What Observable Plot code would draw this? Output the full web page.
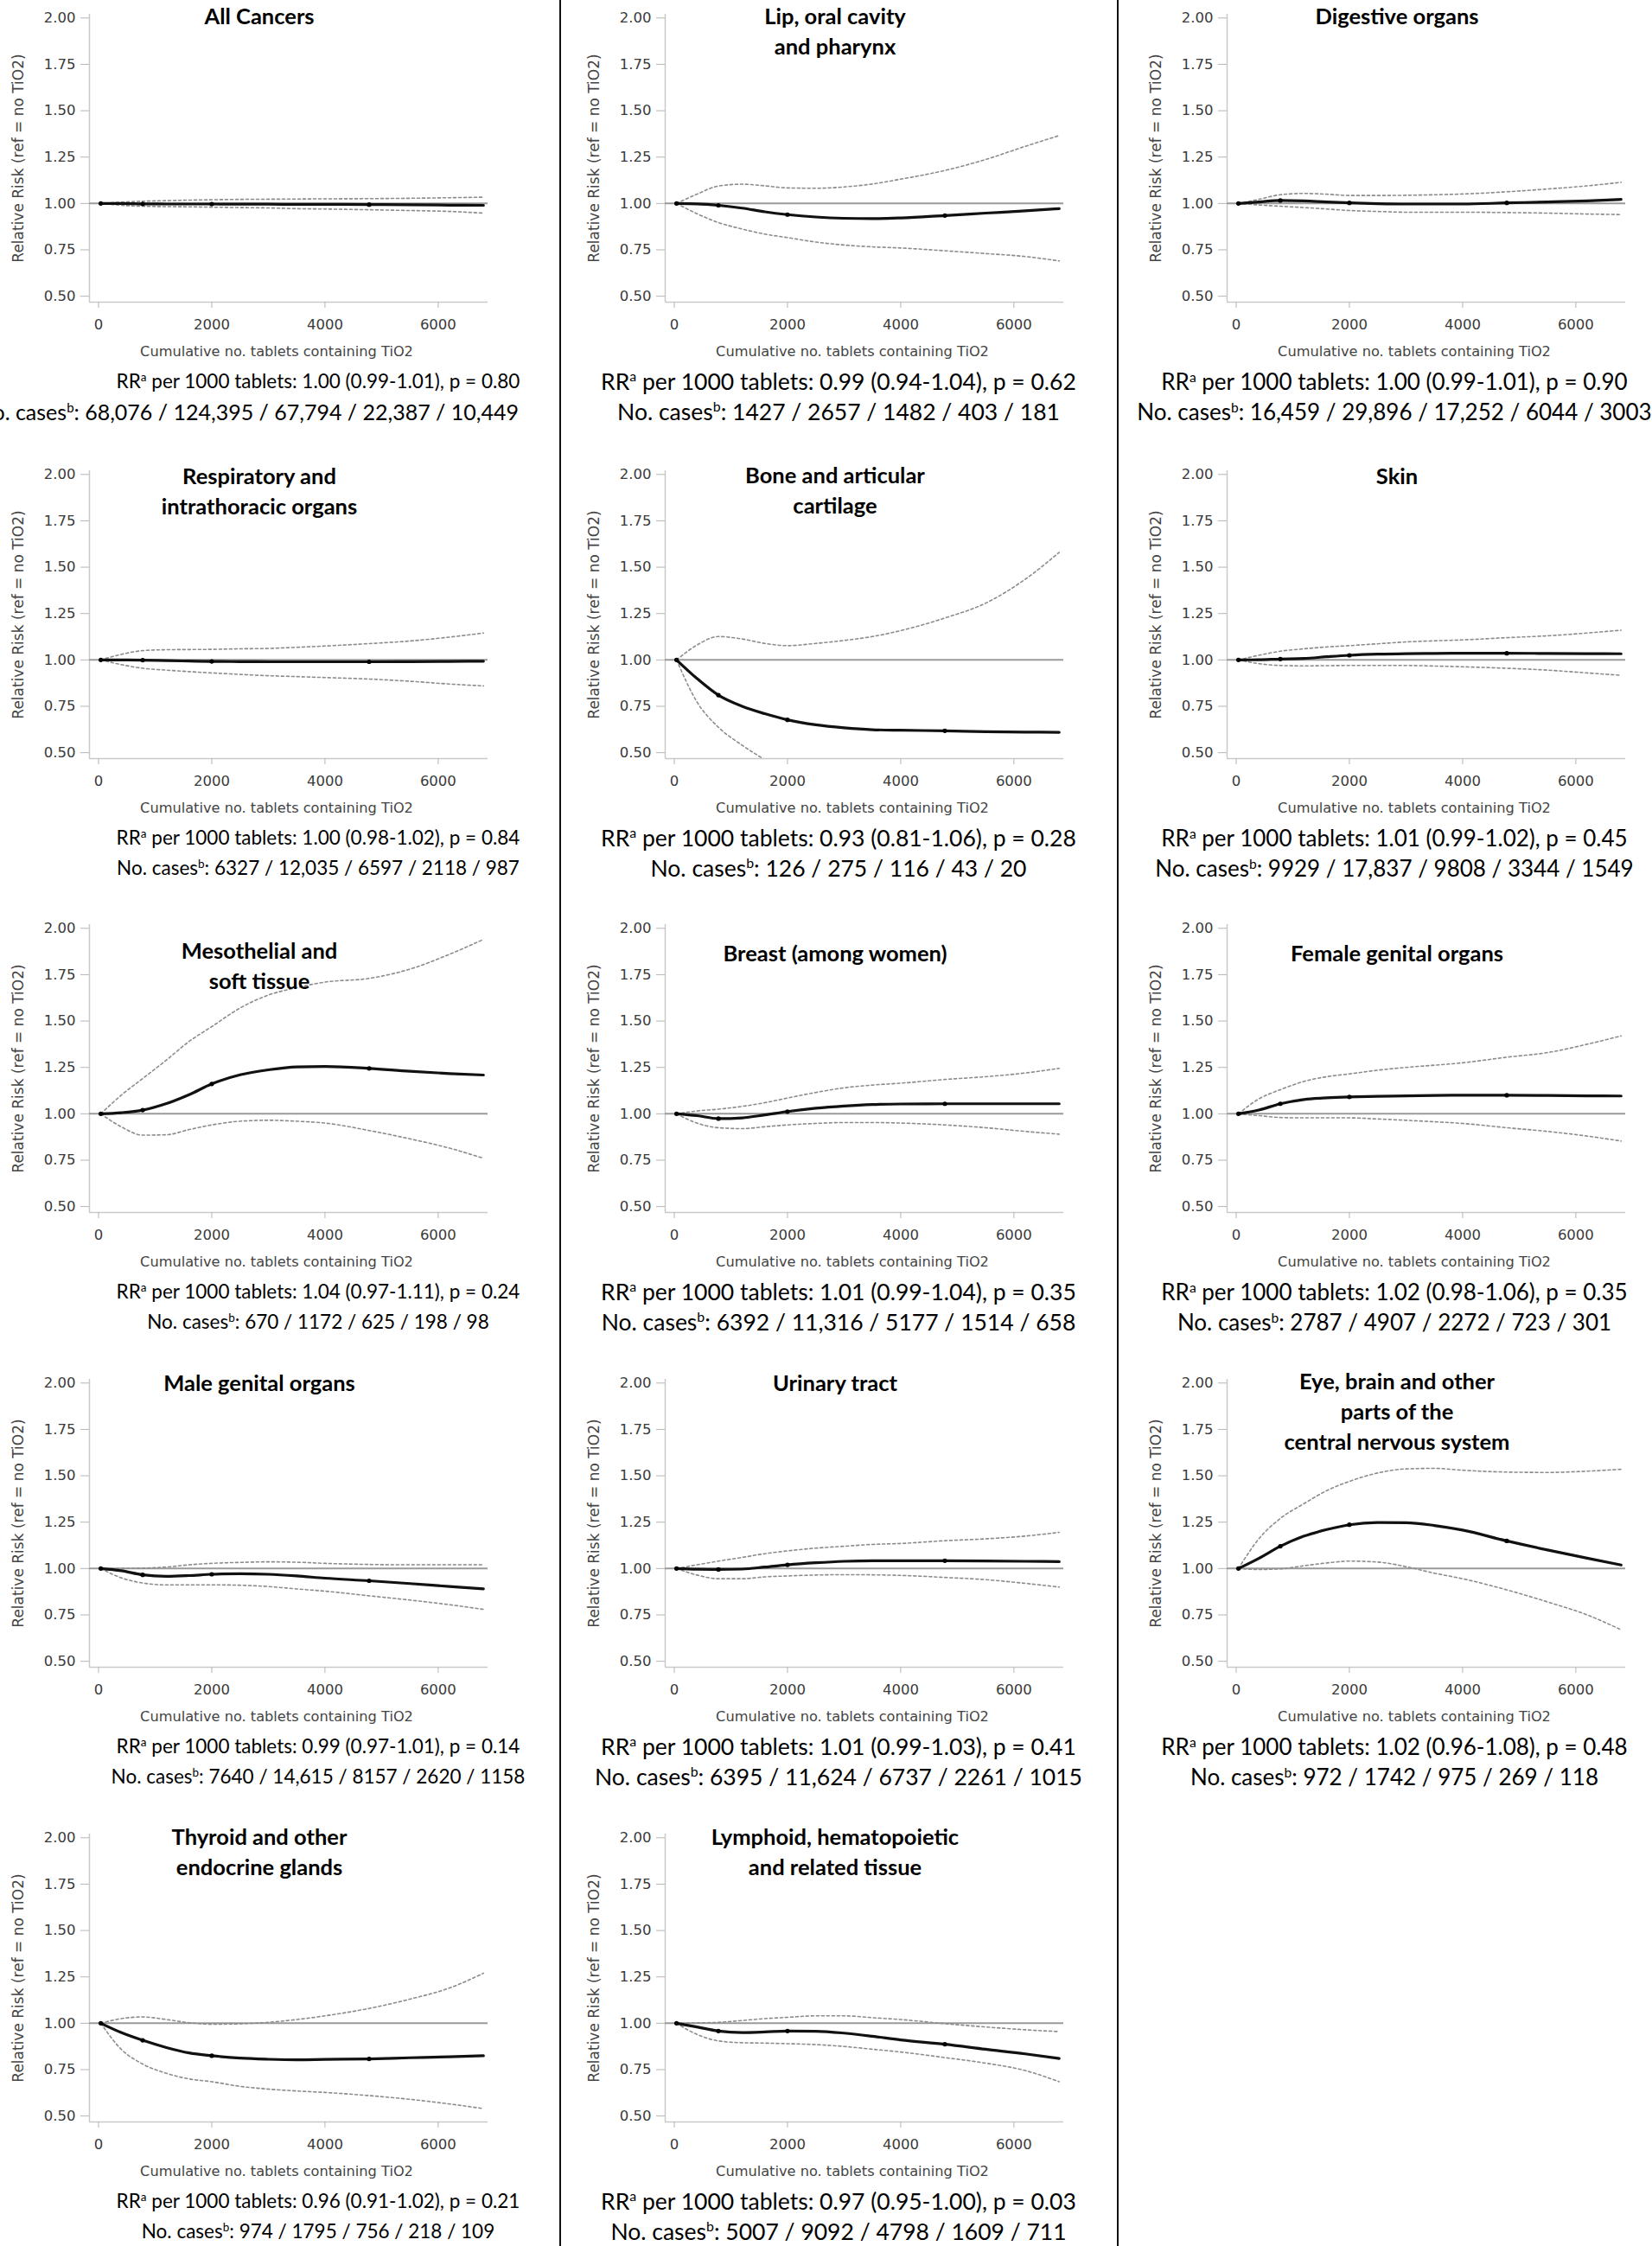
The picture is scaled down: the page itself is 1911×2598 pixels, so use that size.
<!DOCTYPE html>
<html><head><meta charset="utf-8">
<script src="https://cdn.jsdelivr.net/npm/d3@7"></script>
<script src="https://cdn.jsdelivr.net/npm/@observablehq/plot@0.6"></script>
<style>
body{margin:0;background:#fff;}
#page{position:relative;width:1911px;height:2598px;overflow:hidden;background:#fff;}
.panel{position:absolute;}
.panel svg{overflow:visible;}
.cap{position:absolute;white-space:nowrap;font-family:Lato,sans-serif;color:#000;line-height:1;}
.cap sup{font-size:0.6em;vertical-align:0.6em;line-height:0;}
.sep{position:absolute;top:0;width:2px;height:2598px;background:#111;}
</style></head><body><div id="page"></div>
<script>
// ---------- data ----------
const xSamples = [40, 400, 780, 1200, 1600, 2000, 2500, 3000, 3500, 4000, 4780, 5500, 6200, 6800];
const knotIndex = [0, 2, 5, 10];
const xTicks = [0, 2000, 4000, 6000];
const yTicks = [0.5, 0.75, 1.0, 1.25, 1.5, 1.75, 2.0];
const xLabel = "Cumulative no. tablets containing TiO2";
const yLabel = "Relative Risk (ref = no TiO2)";

const titles = [
  "All Cancers", "Lip, oral cavity\nand pharynx", "Digestive organs",
  "Respiratory and\nintrathoracic organs", "Bone and articular\ncartilage", "Skin",
  "Mesothelial and\nsoft tissue", "Breast (among women)", "Female genital organs",
  "Male genital organs", "Urinary tract", "Eye, brain and other\nparts of the\ncentral nervous system",
  "Thyroid and other\nendocrine glands", "Lymphoid, hematopoietic\nand related tissue"
];
const rrText = [
  "1.00 (0.99-1.01), p = 0.80", "0.99 (0.94-1.04), p = 0.62", "1.00 (0.99-1.01), p = 0.90",
  "1.00 (0.98-1.02), p = 0.84", "0.93 (0.81-1.06), p = 0.28", "1.01 (0.99-1.02), p = 0.45",
  "1.04 (0.97-1.11), p = 0.24", "1.01 (0.99-1.04), p = 0.35", "1.02 (0.98-1.06), p = 0.35",
  "0.99 (0.97-1.01), p = 0.14", "1.01 (0.99-1.03), p = 0.41", "1.02 (0.96-1.08), p = 0.48",
  "0.96 (0.91-1.02), p = 0.21", "0.97 (0.95-1.00), p = 0.03"
];
const casesText = [
  "68,076 / 124,395 / 67,794 / 22,387 / 10,449", "1427 / 2657 / 1482 / 403 / 181", "16,459 / 29,896 / 17,252 / 6044 / 3003",
  "6327 / 12,035 / 6597 / 2118 / 987", "126 / 275 / 116 / 43 / 20", "9929 / 17,837 / 9808 / 3344 / 1549",
  "670 / 1172 / 625 / 198 / 98", "6392 / 11,316 / 5177 / 1514 / 658", "2787 / 4907 / 2272 / 723 / 301",
  "7640 / 14,615 / 8157 / 2620 / 1158", "6395 / 11,624 / 6737 / 2261 / 1015", "972 / 1742 / 975 / 269 / 118",
  "974 / 1795 / 756 / 218 / 109", "5007 / 9092 / 4798 / 1609 / 711"
];

const estAll = [1, 1, 0.998, 0.997, 0.997, 0.997, 0.996, 0.996, 0.995, 0.995, 0.994, 0.993, 0.991, 0.99];
const hiAll  = [1, 1.007, 1.012, 1.015, 1.018, 1.02, 1.022, 1.023, 1.024, 1.025, 1.026, 1.028, 1.031, 1.034];
const loAll  = [1, 0.99, 0.985, 0.983, 0.982, 0.98, 0.978, 0.976, 0.972, 0.97, 0.966, 0.962, 0.957, 0.948];

const estLip = [1, 0.998, 0.99, 0.975, 0.955, 0.94, 0.927, 0.92, 0.918, 0.922, 0.935, 0.948, 0.96, 0.972];
const hiLip  = [1, 1.05, 1.094, 1.104, 1.095, 1.084, 1.082, 1.089, 1.105, 1.131, 1.178, 1.237, 1.308, 1.366];
const loLip  = [1, 0.945, 0.897, 0.862, 0.835, 0.816, 0.792, 0.776, 0.766, 0.76, 0.745, 0.73, 0.714, 0.69];

const estDig = [1, 1.008, 1.016, 1.014, 1.008, 1.003, 0.999, 0.997, 0.997, 0.997, 1.003, 1.008, 1.014, 1.022];
const hiDig  = [1, 1.022, 1.047, 1.054, 1.05, 1.043, 1.043, 1.044, 1.047, 1.051, 1.063, 1.078, 1.095, 1.114];
const loDig  = [1, 0.992, 0.985, 0.978, 0.97, 0.962, 0.957, 0.953, 0.953, 0.953, 0.951, 0.948, 0.943, 0.94];

const estResp = [1, 1, 0.999, 0.996, 0.994, 0.992, 0.991, 0.99, 0.99, 0.99, 0.99, 0.991, 0.992, 0.993];
const hiResp  = [1, 1.03, 1.05, 1.055, 1.056, 1.057, 1.06, 1.062, 1.068, 1.075, 1.088, 1.102, 1.123, 1.145];
const loResp  = [1, 0.975, 0.955, 0.945, 0.937, 0.93, 0.922, 0.915, 0.91, 0.905, 0.897, 0.885, 0.87, 0.86];

const estBone = [1, 0.9, 0.81, 0.75, 0.71, 0.677, 0.65, 0.634, 0.624, 0.621, 0.618, 0.613, 0.611, 0.61];
const hiBone  = [1, 1.08, 1.126, 1.113, 1.089, 1.077, 1.089, 1.105, 1.126, 1.158, 1.226, 1.306, 1.435, 1.58];
const loBone  = [1, 0.774, 0.637, 0.54, 0.462, null, null, null, null, null, null, null, null, null];

const estSkin = [1, 1.001, 1.005, 1.008, 1.017, 1.025, 1.031, 1.034, 1.035, 1.036, 1.036, 1.035, 1.034, 1.033];
const hiSkin  = [1, 1.025, 1.047, 1.06, 1.07, 1.077, 1.087, 1.097, 1.103, 1.108, 1.12, 1.13, 1.145, 1.16];
const loSkin  = [1, 0.98, 0.97, 0.968, 0.969, 0.97, 0.97, 0.97, 0.967, 0.963, 0.955, 0.945, 0.93, 0.917];

const estMeso = [1, 1.006, 1.02, 1.055, 1.103, 1.161, 1.21, 1.237, 1.253, 1.255, 1.245, 1.229, 1.217, 1.209];
const hiMeso  = [1, 1.1, 1.19, 1.29, 1.39, 1.47, 1.57, 1.64, 1.68, 1.71, 1.73, 1.78, 1.86, 1.94];
const loMeso  = [1, 0.93, 0.885, 0.887, 0.915, 0.94, 0.96, 0.965, 0.96, 0.95, 0.91, 0.865, 0.815, 0.76];

const estBreast = [1, 0.99, 0.974, 0.978, 0.994, 1.012, 1.03, 1.042, 1.05, 1.053, 1.054, 1.054, 1.054, 1.054];
const hiBreast  = [1, 1.015, 1.025, 1.04, 1.06, 1.085, 1.115, 1.14, 1.155, 1.165, 1.185, 1.2, 1.22, 1.245];
const loBreast  = [1, 0.95, 0.925, 0.92, 0.93, 0.94, 0.948, 0.953, 0.953, 0.95, 0.94, 0.925, 0.905, 0.89];

const estFem = [1, 1.02, 1.054, 1.077, 1.086, 1.091, 1.094, 1.097, 1.099, 1.1, 1.1, 1.099, 1.097, 1.096];
const hiFem  = [1, 1.08, 1.13, 1.175, 1.2, 1.215, 1.235, 1.25, 1.262, 1.275, 1.305, 1.33, 1.375, 1.42];
const loFem  = [1, 0.99, 0.98, 0.978, 0.978, 0.978, 0.972, 0.965, 0.957, 0.948, 0.925, 0.905, 0.88, 0.853];

const estMale = [1, 0.988, 0.966, 0.958, 0.962, 0.969, 0.972, 0.969, 0.96, 0.948, 0.934, 0.919, 0.903, 0.89];
const hiMale  = [1, 1, 1.002, 1.008, 1.02, 1.028, 1.033, 1.036, 1.034, 1.028, 1.022, 1.02, 1.02, 1.02];
const loMale  = [1, 0.95, 0.922, 0.912, 0.912, 0.912, 0.91, 0.903, 0.89, 0.878, 0.853, 0.83, 0.805, 0.78];

const estUrin = [1, 0.996, 0.995, 0.997, 1.008, 1.02, 1.031, 1.039, 1.042, 1.042, 1.042, 1.041, 1.039, 1.037];
const hiUrin  = [1, 1.02, 1.04, 1.06, 1.08, 1.095, 1.11, 1.12, 1.13, 1.135, 1.15, 1.16, 1.175, 1.195];
const loUrin  = [1, 0.965, 0.945, 0.945, 0.955, 0.96, 0.965, 0.967, 0.966, 0.963, 0.952, 0.94, 0.92, 0.9];

const estEye = [1, 1.055, 1.12, 1.175, 1.21, 1.236, 1.248, 1.247, 1.232, 1.207, 1.149, 1.1, 1.056, 1.019];
const hiEye  = [1, 1.16, 1.27, 1.35, 1.42, 1.47, 1.515, 1.537, 1.54, 1.53, 1.52, 1.518, 1.525, 1.535];
const loEye  = [1, 0.995, 0.998, 1.015, 1.03, 1.04, 1.035, 1.01, 0.975, 0.945, 0.885, 0.82, 0.75, 0.67];

const estThy = [1, 0.95, 0.908, 0.869, 0.84, 0.825, 0.812, 0.806, 0.803, 0.805, 0.808, 0.814, 0.819, 0.825];
const hiThy  = [1, 1.025, 1.034, 1.02, 1.003, 0.995, 0.997, 1.005, 1.02, 1.04, 1.08, 1.13, 1.19, 1.27];
const loThy  = [1, 0.86, 0.78, 0.73, 0.7, 0.685, 0.66, 0.645, 0.635, 0.627, 0.61, 0.59, 0.565, 0.54];

const estLym = [1, 0.98, 0.958, 0.95, 0.953, 0.958, 0.957, 0.947, 0.93, 0.91, 0.887, 0.86, 0.835, 0.81];
const hiLym  = [1, 1.002, 1.005, 1.015, 1.025, 1.032, 1.04, 1.04, 1.03, 1.02, 0.998, 0.98, 0.965, 0.955];
const loLym  = [1, 0.94, 0.905, 0.895, 0.893, 0.89, 0.885, 0.875, 0.86, 0.845, 0.815, 0.785, 0.745, 0.685];

const estimates = [estAll, estLip, estDig, estResp, estBone, estSkin, estMeso, estBreast, estFem, estMale, estUrin, estEye, estThy, estLym];
const uppers    = [hiAll, hiLip, hiDig, hiResp, hiBone, hiSkin, hiMeso, hiBreast, hiFem, hiMale, hiUrin, hiEye, hiThy, hiLym];
const lowers    = [loAll, loLip, loDig, loResp, loBone, loSkin, loMeso, loBreast, loFem, loMale, loUrin, loEye, loThy, loLym];

// ---------- layout ----------
const X_DOMAIN = [-160, 6880], Y_DOMAIN = [0.468, 2.02];
const ML = 100, MR = 12, MT = 12, MB = 84, IW = 461, IH = 333;
const W = ML + IW + MR, H = MT + IH + MB;
const zeroX = [113, 779, 1429];             // page x of the "0" tick per column
const tick2Y = [20, 548, 1073, 1599, 2125]; // page y of the "2.00" tick per row
const titleOffset = [-9, -9, -9, -5, -6, -5, 19, 22, 22, -7, -7, -9, -8, -8];
const capX = [368, 970, 1613];
const capFont = [22.5, 26.5, 26];
const sepX = [648, 1293];
const TITLE_FS = 25.5;

const x0px = ML + (0 - X_DOMAIN[0]) / (X_DOMAIN[1] - X_DOMAIN[0]) * IW;
const y2px = MT + (Y_DOMAIN[1] - 2) / (Y_DOMAIN[1] - Y_DOMAIN[0]) * IH;

const page = document.getElementById("page");
sepX.forEach(x => { const d = document.createElement("div"); d.className = "sep"; d.style.left = (x - 1) + "px"; page.appendChild(d); });

function caption(parent, html, x, y, size, anchor) {
  const c = document.createElement("div");
  c.className = "cap";
  c.innerHTML = html;
  c.style.fontSize = size + "px";
  c.style.left = x + "px"; c.style.top = y + "px";
  c.style.transform = anchor === "end" ? "translate(-100%,-50%)" : "translate(-50%,-50%)";
  parent.appendChild(c);
}

titles.forEach((title, i) => {
  const col = i % 3, row = Math.floor(i / 3);
  const left = zeroX[col] - x0px, top = tick2Y[row] - y2px;
  const pts = (arr) => xSamples.map((x, j) => ({x, y: arr[j]}));
  const est = pts(estimates[i]);
  const knots = knotIndex.map(j => est[j]);

  const chart = Plot.plot({
    width: W, height: H,
    marginLeft: ML, marginRight: MR, marginTop: MT, marginBottom: MB,
    style: {fontFamily: "DejaVu Sans, sans-serif", background: "transparent", overflow: "visible"},
    x: {domain: X_DOMAIN, axis: null},
    y: {domain: Y_DOMAIN, axis: null},
    marks: [
      Plot.ruleX([X_DOMAIN[0]], {stroke: "#c9c9c9", strokeWidth: 1.5}),
      Plot.ruleY([Y_DOMAIN[0]], {stroke: "#c9c9c9", strokeWidth: 1.5}),
      Plot.axisY(yTicks, {anchor: "left", tickSize: 10, tickPadding: 6, tickFormat: d3.format(".2f"),
        stroke: "#b5b5b5", fill: "#3a3a3a", fontSize: 16.5, label: null}),
      Plot.axisX(xTicks, {anchor: "bottom", tickSize: 7, tickPadding: 13, tickFormat: d => String(d),
        stroke: "#b5b5b5", fill: "#3a3a3a", fontSize: 16.5, label: null}),
      Plot.ruleY([1], {stroke: "#9a9a9a", strokeWidth: 2}),
      Plot.line(pts(uppers[i]), {x: "x", y: "y", stroke: "#8c8c8c", strokeWidth: 1.6, strokeDasharray: "3,3", curve: "monotone-x", clip: true}),
      Plot.line(pts(lowers[i]), {x: "x", y: "y", stroke: "#8c8c8c", strokeWidth: 1.6, strokeDasharray: "3,3", curve: "monotone-x", clip: true}),
      Plot.line(est, {x: "x", y: "y", stroke: "#111", strokeWidth: 3.2, curve: "monotone-x"}),
      Plot.dot(knots, {x: "x", y: "y", r: 2.6, fill: "#000"}),
      Plot.text([yLabel], {frameAnchor: "left", textAnchor: "middle", rotate: -90, dx: -82, fontSize: 17, fill: "#444"}),
      Plot.text([xLabel], {frameAnchor: "bottom", dx: -14, dy: 62, fontSize: 16.2, fill: "#444"}),
      Plot.text([title], {frameAnchor: "top", lineAnchor: "top", dx: -34,
        dy: y2px + titleOffset[i] - MT - 0.35 * TITLE_FS, lineHeight: 1.37,
        fontSize: TITLE_FS, fontWeight: "bold", fontFamily: "Lato, sans-serif", fill: "#000"})
    ]
  });

  const div = document.createElement("div");
  div.className = "panel";
  div.style.left = left + "px"; div.style.top = top + "px";
  div.style.width = W + "px"; div.style.height = H + "px";
  div.appendChild(chart);

  const cx = capX[col] - left;
  caption(div, "RR<sup>a</sup> per 1000 tablets: " + rrText[i], cx, y2px + 421, capFont[col], "middle");
  if (i === 0) {
    // the long first-panel count line runs past the left page edge, ending where line one ends
    caption(div, "No. cases<sup>b</sup>: " + casesText[i], 600 - left, y2px + 456, 25, "end");
  } else {
    caption(div, "No. cases<sup>b</sup>: " + casesText[i], cx, y2px + 456, capFont[col], "middle");
  }
  page.appendChild(div);
});
</script></body></html>
